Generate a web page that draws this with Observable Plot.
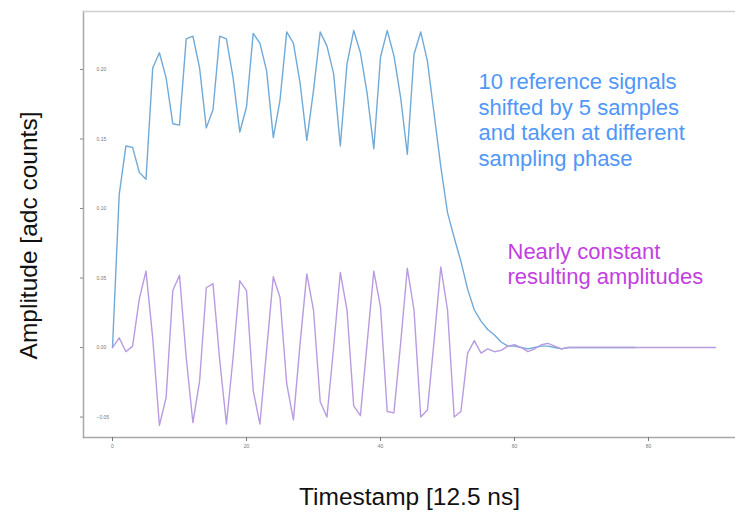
<!DOCTYPE html>
<html><head><meta charset="utf-8">
<script src="https://cdn.jsdelivr.net/npm/d3@7"></script>
<script src="https://cdn.jsdelivr.net/npm/@observablehq/plot@0.6"></script>
<style>body{margin:0;background:#fff;} svg{display:block}</style>
</head><body><div id="chart"></div>
<script>
// reference signals (blue), one sample per timestamp
const referenceSignal = [
  0.000, 0.110, 0.145, 0.144, 0.126, 0.121, 0.201, 0.212, 0.194, 0.161,
  0.160, 0.222, 0.224, 0.201, 0.158, 0.171, 0.224, 0.222, 0.194, 0.155,
  0.173, 0.226, 0.219, 0.199, 0.151, 0.178, 0.227, 0.219, 0.190, 0.149,
  0.185, 0.227, 0.217, 0.197, 0.145, 0.204, 0.228, 0.212, 0.183, 0.143,
  0.209, 0.228, 0.210, 0.180, 0.139, 0.211, 0.227, 0.206, 0.168, 0.130,
  0.097, 0.079, 0.062, 0.042, 0.027, 0.019, 0.013, 0.009, 0.004, 0.001,
  0.001, 0.000, -0.001, 0.000, 0.001, 0.001, 0.000, -0.001, 0.000, 0.000,
  0.000, 0.000, 0.000, 0.000, 0.000, 0.000, 0.000, 0.000, 0.000
];
// resulting amplitudes (purple)
const resultingAmplitude = [
  0.000, 0.007, -0.003, 0.001, 0.035, 0.055, 0.007, -0.056, -0.036, 0.041,
  0.052, -0.007, -0.054, -0.024, 0.043, 0.046, -0.009, -0.055, -0.007, 0.048,
  0.041, -0.031, -0.055, -0.002, 0.051, 0.036, -0.026, -0.052, 0.003, 0.053,
  0.027, -0.039, -0.050, 0.000, 0.054, 0.027, -0.042, -0.049, 0.003, 0.055,
  0.029, -0.046, -0.047, 0.003, 0.057, 0.027, -0.050, -0.045, 0.005, 0.058,
  0.027, -0.050, -0.046, -0.004, 0.005, -0.004, -0.001, -0.003, -0.002, 0.001,
  0.002, 0.000, -0.003, -0.001, 0.002, 0.003, 0.001, -0.001, 0.000, 0.000,
  0.000, 0.000, 0.000, 0.000, 0.000, 0.000, 0.000, 0.000, 0.000, 0.000,
  0.000, 0.000, 0.000, 0.000, 0.000, 0.000, 0.000, 0.000, 0.000, 0.000,
  0.000
];
const xTicks = [0, 20, 40, 60, 80];
const yTicks = [-0.05, 0.00, 0.05, 0.10, 0.15, 0.20];
const xLabel = "Timestamp [12.5 ns]";
const yLabel = "Amplitude [adc counts]";
const blueNote = ["10 reference signals", "shifted by 5 samples", "and taken at different", "sampling phase"];
const purpleNote = ["Nearly constant", "resulting amplitudes"];

const blueData = referenceSignal.map((v, i) => ({t: i, a: v}));
const purpleData = resultingAmplitude.map((v, i) => ({t: i, a: v}));

const font = "'Liberation Sans', Arial, sans-serif";

const chart = Plot.plot({
  width: 735, height: 513,
  marginLeft: 83, marginTop: 11, marginBottom: 76, marginRight: 0,
  x: {domain: [-4.328, 92.98]},
  y: {domain: [-0.0647, 0.2417]},
  style: {fontFamily: font, background: "#fff"},
  marks: [
    Plot.frame({anchor: "left", stroke: "#a8a8a8", strokeWidth: 1.5}),
    Plot.frame({anchor: "top", stroke: "#d0d0d0", strokeWidth: 1.5}),
    Plot.frame({anchor: "bottom", stroke: "#a8a8a8", strokeWidth: 1.5}),
    Plot.axisX({ticks: xTicks, tickSize: 4, tickPadding: 3, fontSize: 5, label: null, color: "#777", tickFormat: d3.format("d")}),
    Plot.axisY({ticks: yTicks, tickSize: 3, label: null, tickFormat: () => "", color: "#888"}),
    Plot.text(yTicks, {y: d => d, text: d => d3.format(".2f")(d), frameAnchor: "left", dx: 13, fontSize: 5, fill: "#777"}),
    Plot.line(blueData, {x: "t", y: "a", stroke: "#70aad8", strokeWidth: 1.4}),
    Plot.line(purpleData, {x: "t", y: "a", stroke: "#b99be0", strokeWidth: 1.4}),
    Plot.text([blueNote.join("\n")], {text: d => d, frameAnchor: "top-left", dx: 395, dy: 59, textAnchor: "start", lineAnchor: "top", lineHeight: 1.17, fontSize: 22, fill: "#5097f8"}),
    Plot.text([purpleNote.join("\n")], {text: d => d, frameAnchor: "top-left", dx: 424, dy: 230, textAnchor: "start", lineAnchor: "top", lineHeight: 1.14, fontSize: 22, fill: "#c23fe0"}),
    Plot.text([xLabel], {text: d => d, frameAnchor: "bottom", dy: 60, textAnchor: "middle", lineAnchor: "middle", fontSize: 24.5, fill: "#111"}),
    Plot.text([yLabel], {text: d => d, frameAnchor: "left", dx: -54, dy: 11, textAnchor: "middle", lineAnchor: "middle", rotate: -90, fontSize: 24.5, fill: "#111"})
  ]
});
document.getElementById("chart").appendChild(chart);
</script>
</body></html>
